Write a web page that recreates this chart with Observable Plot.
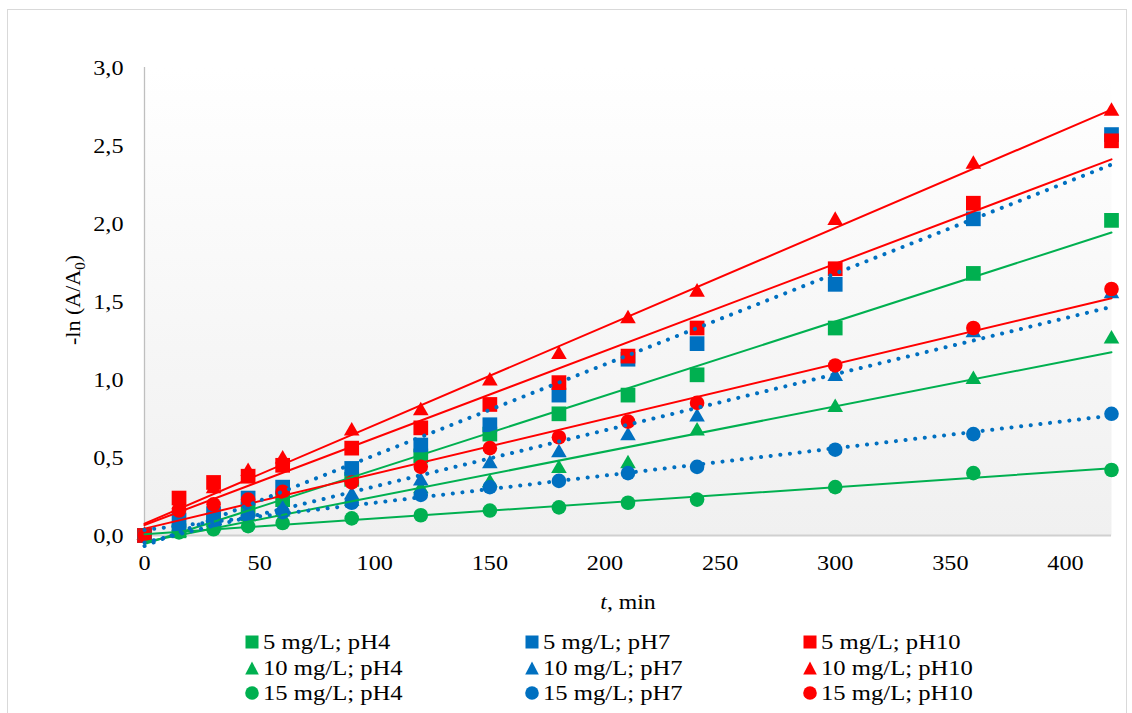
<!DOCTYPE html>
<html>
<head>
<meta charset="utf-8">
<script src="https://cdn.jsdelivr.net/npm/d3@7"></script>
<script src="https://cdn.jsdelivr.net/npm/@observablehq/plot@0.6"></script>
<style>
  html, body { margin: 0; padding: 0; background: #fff; overflow: hidden; }
  #wrap { position: relative; width: 1132px; height: 713px; font-family: "Liberation Serif", "Times New Roman", serif; color: #000; }
  #border { position: absolute; left: 7px; top: 9px; width: 1120px; height: 760px; border: 1px solid #d9d9d9; box-sizing: border-box; }
  #chart { position: absolute; left: 0; top: 0; }
  .leg { position: absolute; display: flex; align-items: center; transform: translateY(-50%); font-size: 22px; line-height: 1; white-space: nowrap; }
  .leg svg { display: block; margin-right: 4px; }
  .leg span { display: inline-block; transform: scaleX(1.12); transform-origin: left center; }
</style>
</head>
<body>
<div id="wrap">
  <div id="border"></div>
  <div id="chart"></div>
  <div id="legend"></div>
</div>
<script>
// ---- data ----
const times = [0, 15, 30, 45, 60, 90, 120, 150, 180, 210, 240, 300, 360, 420];

const mg5_pH4  = [0, 0.03, 0.10, 0.17, 0.23, 0.36, 0.51, 0.65, 0.78, 0.90, 1.03, 1.33, 1.68, 2.02];
const mg5_pH7  = [0, 0.10, 0.14, 0.24, 0.31, 0.43, 0.58, 0.71, 0.90, 1.13, 1.23, 1.61, 2.03, 2.57];
const mg5_pH10 = [0, 0.24, 0.34, 0.38, 0.45, 0.56, 0.69, 0.84, 0.98, 1.15, 1.33, 1.71, 2.13, 2.53];

const mg10_pH4  = [0, 0.02, 0.06, 0.12, 0.15, 0.22, 0.30, 0.34, 0.43, 0.46, 0.67, 0.82, 1.00, 1.26];
const mg10_pH7  = [0, 0.06, 0.10, 0.15, 0.17, 0.26, 0.35, 0.46, 0.53, 0.64, 0.76, 1.02, 1.30, 1.55];
const mg10_pH10 = [0, 0.20, 0.30, 0.41, 0.49, 0.67, 0.80, 0.99, 1.16, 1.39, 1.56, 2.02, 2.38, 2.72];

const mg15_pH4  = [0, 0.02, 0.04, 0.06, 0.08, 0.11, 0.13, 0.16, 0.18, 0.21, 0.23, 0.31, 0.40, 0.42];
const mg15_pH7  = [0, 0.05, 0.09, 0.13, 0.15, 0.21, 0.26, 0.31, 0.35, 0.40, 0.44, 0.55, 0.65, 0.78];
const mg15_pH10 = [0, 0.16, 0.20, 0.23, 0.28, 0.34, 0.44, 0.56, 0.63, 0.73, 0.85, 1.09, 1.33, 1.58];

const concentrations = ["5", "10", "15"];
const phLevels = ["pH4", "pH7", "pH10"];
const xTicks = [0, 50, 100, 150, 200, 250, 300, 350, 400];
const yTicks = [0, 0.5, 1.0, 1.5, 2.0, 2.5, 3.0];

// ---- styling lookups ----
const colorByPh = { pH4: "#00B050", pH7: "#0070C0", pH10: "#FF0000" };
const symbolByConc = { "5": "square", "10": "triangle", "15": "circle" };

const valuesBy = {
  "5|pH4": mg5_pH4, "5|pH7": mg5_pH7, "5|pH10": mg5_pH10,
  "10|pH4": mg10_pH4, "10|pH7": mg10_pH7, "10|pH10": mg10_pH10,
  "15|pH4": mg15_pH4, "15|pH7": mg15_pH7, "15|pH10": mg15_pH10
};

const series = [];
for (const c of concentrations) for (const p of phLevels) {
  series.push({ conc: c, ph: p, label: `${c} mg/L; ${p}`, values: valuesBy[`${c}|${p}`] });
}
const rows = series.flatMap(s => times.map((t, i) => ({
  t, v: s.values[i], label: s.label, conc: s.conc, ph: s.ph, color: colorByPh[s.ph]
})));

const fmtY = d => d.toFixed(1).replace(".", ",");

const plot = Plot.plot({
  width: 1132,
  height: 620,
  marginLeft: 144,
  marginRight: 21,
  marginTop: 67,
  marginBottom: 85,
  style: { fontFamily: "Liberation Serif, Times New Roman, serif", fontSize: "22px", color: "#000", background: "transparent", overflow: "visible" },
  x: { domain: [0, 420], ticks: xTicks, tickSize: 0, tickPadding: 19, label: null },
  y: { domain: [0, 3], ticks: yTicks, tickFormat: fmtY, tickSize: 0, tickPadding: 21, label: null },
  color: { type: "identity" },
  marks: [
    Plot.frame({ fill: "url(#plotbg)", stroke: "none" }),
    Plot.ruleX([0], { stroke: "#bfbfbf", strokeWidth: 1.3 }),
    Plot.ruleY([0], { stroke: "#d0d0d0", strokeWidth: 2 }),
    Plot.dot(rows.filter(d => d.conc === "5"), { x: "t", y: "v", fill: "color", symbol: "square", r: 8.3 }),
    Plot.dot(rows.filter(d => d.conc === "10"), { x: "t", y: "v", fill: "color", symbol: "triangle", r: 5.8 }),
    Plot.dot(rows.filter(d => d.conc === "15"), { x: "t", y: "v", fill: "color", symbol: "circle", r: 7.3 }),
    Plot.linearRegressionY(rows.filter(d => d.ph !== "pH7"), { x: "t", y: "v", z: "label", stroke: "color", ci: 0, strokeWidth: 2 }),
    Plot.linearRegressionY(rows.filter(d => d.ph === "pH7"), { x: "t", y: "v", z: "label", stroke: "color", ci: 0, strokeWidth: 4, strokeDasharray: "0.1 9.6", strokeLinecap: "round" })
  ]
});

document.getElementById("chart").appendChild(plot);

const svg = d3.select(plot);
const grad = svg.insert("defs", ":first-child").append("linearGradient")
  .attr("id", "plotbg").attr("x1", 0).attr("y1", 0).attr("x2", 0).attr("y2", 1);
grad.append("stop").attr("offset", "0%").attr("stop-color", "#ffffff");
grad.append("stop").attr("offset", "100%").attr("stop-color", "#f0f0f0");

// tick labels in the reference are slightly wide: stretch horizontally around their anchor
svg.selectAll('g[aria-label="x-axis tick label"] text, g[aria-label="y-axis tick label"] text')
  .each(function () {
    const tr = this.getAttribute("transform") || "";
    this.setAttribute("transform", tr + " scale(1.1,1)");
  });

// y-axis title with subscript
const yt = svg.append("text")
  .attr("transform", "translate(80,300) rotate(-90)")
  .attr("text-anchor", "middle")
  .attr("font-size", 22)
  .attr("fill", "#000");
yt.append("tspan").text("-ln (A/A");
yt.append("tspan").attr("font-size", 15).attr("dy", 5).text("0");
yt.append("tspan").attr("dy", -5).text(")");

// x-axis title
const xt = svg.append("text")
  .attr("transform", "translate(628,609) scale(1.08,1)")
  .attr("text-anchor", "middle")
  .attr("font-size", 22)
  .attr("fill", "#000");
xt.append("tspan").attr("font-style", "italic").text("t");
xt.append("tspan").text(", min");

// ---- legend ----
const legend = document.getElementById("legend");
const colX = [245, 525, 803];
const rowY = [642, 668, 693];
const symbolPaths = {
  square: '<rect x="0.5" y="0.5" width="13" height="13"/>',
  triangle: '<polygon points="7,0.5 13.8,13.5 0.2,13.5"/>',
  circle: '<circle cx="7" cy="7" r="6.8"/>'
};
concentrations.forEach((c, ri) => {
  phLevels.forEach((p, ci) => {
    const s = series.find(d => d.conc === c && d.ph === p);
    const div = document.createElement("div");
    div.className = "leg";
    div.style.left = colX[ci] + "px";
    div.style.top = rowY[ri] + "px";
    div.innerHTML = `<svg width="14" height="14" viewBox="0 0 14 14" fill="${colorByPh[p]}">${symbolPaths[symbolByConc[c]]}</svg><span>${s.label}</span>`;
    legend.appendChild(div);
  });
});
</script>
</body>
</html>
